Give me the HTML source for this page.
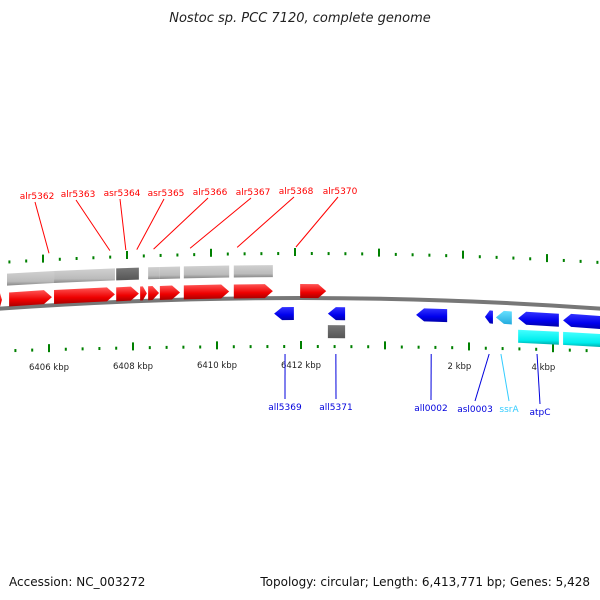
<!DOCTYPE html>
<html><head><meta charset="utf-8"><style>
body{margin:0;background:#fff}
svg{display:block;font-family:"DejaVu Sans","Liberation Sans",sans-serif}
</style></head><body>
<svg id="c" width="600" height="600" viewBox="0 0 600 600">
<defs>
<linearGradient id="gr" x1="0" y1="0" x2="0" y2="1"><stop offset="0" stop-color="#ff5555"/><stop offset="0.6" stop-color="#ee0000"/><stop offset="1" stop-color="#aa0000"/></linearGradient>
<linearGradient id="gb" x1="0" y1="0" x2="0" y2="1"><stop offset="0" stop-color="#3333ff"/><stop offset="0.6" stop-color="#0000ee"/><stop offset="1" stop-color="#0000aa"/></linearGradient>
<linearGradient id="gc" x1="0" y1="0" x2="0" y2="1"><stop offset="0" stop-color="#66e0ff"/><stop offset="1" stop-color="#22aadd"/></linearGradient>
<linearGradient id="gq" x1="0" y1="0" x2="0" y2="1"><stop offset="0" stop-color="#44ffff"/><stop offset="0.7" stop-color="#00eeee"/><stop offset="1" stop-color="#00aaaa"/></linearGradient>
<linearGradient id="gg" x1="0" y1="0" x2="0" y2="1"><stop offset="0" stop-color="#d0d0d0"/><stop offset="0.7" stop-color="#bbbbbb"/><stop offset="1" stop-color="#888888"/></linearGradient>
<linearGradient id="gd" x1="0" y1="0" x2="0" y2="1"><stop offset="0" stop-color="#777"/><stop offset="1" stop-color="#555"/></linearGradient>
</defs>
<text x="300" y="22" text-anchor="middle" font-size="13" font-style="italic" fill="#222">Nostoc sp. PCC 7120, complete genome</text>
<text x="9" y="586" font-size="12" fill="#111">Accession: NC_003272</text>
<text x="590" y="586" text-anchor="end" font-size="12" fill="#111">Topology: circular; Length: 6,413,771 bp; Genes: 5,428</text>
<path d="M-5 309 Q300 287 605 309" fill="none" stroke="#777" stroke-width="4"/>
<g id="g"></g>
</svg>
<script>
// positions in kbp along a linear axis (values beyond 6413.771 are wrapped coordinates)
const genomeLen = 6413.771;
const tickLabels = ["6406 kbp","6408 kbp","6410 kbp","6412 kbp","2 kbp","4 kbp"];
const tickPos = [6406,6408,6410,6412,6415.771,6417.771];
const fwdNames = ["alr5362","alr5363","asr5364","asr5365a","asr5365","alr5366","alr5367","alr5368","alr5370","alr5361"];
const fwdStart = [6405.05,6406.12,6407.60,6408.17,6408.36,6408.64,6409.21,6410.40,6411.98,6404.80];
const fwdEnd   = [6406.07,6407.57,6408.14,6408.33,6408.62,6409.12,6410.29,6411.33,6412.60,6404.88];
const rnaStart = [6405.00,6406.12,6407.60,6408.36,6408.64,6409.21,6410.40];
const rnaEnd   = [6406.12,6407.57,6408.14,6408.64,6409.12,6410.29,6411.33];
const rnaDark  = [0,0,1,0,0,0,0];
const revNames = ["all5369","all5371","all0002","asl0003","ssrA","atpC","atpA"];
const revStart = [6411.36,6412.64,6414.74,6416.38,6416.64,6417.17,6418.24];
const revEnd   = [6411.83,6413.05,6415.48,6416.57,6417.02,6418.14,6419.30];
const revKind  = ["b","b","b","b","c","b","b"];
const lowStart = [6412.64,6417.17,6418.24];
const lowEnd   = [6413.05,6418.14,6419.30];
const lowKind  = ["d","q","q"];
const topLabels = ["alr5362","alr5363","asr5364","asr5365","alr5366","alr5367","alr5368","alr5370"];
const topGene   = [6406.0,6407.45,6407.83,6408.09,6408.49,6409.36,6410.48,6411.88];
const botLabels = ["all5369","all5371","all0002","asl0003","ssrA","atpC"];
const botGene   = [6411.62,6412.83,6415.10,6416.48,6416.76,6417.62];

const NS="http://www.w3.org/2000/svg", G=document.getElementById('g');
const X = p => 49 + (p-6406)*42;
const dy = x => 1e-4*(x-300)*(x-300);
function el(t,a){const e=document.createElementNS(NS,t);for(const k in a)e.setAttribute(k,a[k]);G.appendChild(e);return e;}
function arrow(x1,x2,y,h,dir,fill){
  const w=x2-x1, hd=Math.min(8,w*0.6);
  const a=y+dy(x1), b=y+dy(x2);
  let d;
  if(dir>0) d=`M${x1} ${a} L${x2-hd} ${b} L${x2} ${b+h/2} L${x2-hd} ${b+h} L${x1} ${a+h} Z`;
  else d=`M${x1+hd} ${a} L${x2} ${b} L${x2} ${b+h} L${x1+hd} ${a+h} L${x1} ${a+h/2} Z`;
  return el('path',{d,fill});
}
function box(x1,x2,y,h,fill){
  const a=y+dy(x1), b=y+dy(x2);
  return el('path',{d:`M${x1} ${a} L${x2} ${b} L${x2} ${b+h} L${x1} ${a+h} Z`,fill});
}
// ticks
for(let k=0;k<50;k++){
  const p=6404+k*0.4, x=X(p)-6; if(x<0||x>600) continue;
  const major=(k%5)===0;
  const tt=el('rect',{x:x-1,y:(major?248:252)+dy(x),width:2,height:major?8:3,fill:'#008000'});
  
  
  const xb=x+6;
  const tb=el('rect',{x:xb-1,y:(major?341:345)+dy(xb)*0.5,width:2,height:major?8:3,fill:'#008000'});
  
  
}
tickLabels.forEach((t,i)=>{
  const x=X(tickPos[i]);
  const e=el('text',{x:x,y:368+dy(x)*0.3,'text-anchor':'middle','font-size':'8.5',fill:'#222'});
  e.textContent=t;
  
  
});
rnaStart.forEach((s,i)=>{
  const e=box(Math.max(-2,X(s)),X(rnaEnd[i]),265,12,rnaDark[i]?'url(#gd)':'url(#gg)');
  
  
});
fwdStart.forEach((s,i)=>{
  const e=arrow(X(s),X(fwdEnd[i]),284,14,1,'url(#gr)');
  
  
});
revStart.forEach((s,i)=>{
  const e=arrow(X(s),Math.min(605,X(revEnd[i])),307,13,-1,revKind[i]==='c'?'url(#gc)':'url(#gb)');
  
  
});
lowStart.forEach((s,i)=>{
  const e=box(X(s),Math.min(605,X(lowEnd[i])),325,13,lowKind[i]==='d'?'url(#gd)':'url(#gq)');
  
  
});
const tlx=[37,78,122,166,210,253,296,340], tly=[199,197,196,196,195,195,194,194];
topLabels.forEach((t,i)=>{
  const gx=X(topGene[i]);
  const l=el('line',{x1:tlx[i]-2,y1:tly[i]+3,x2:gx,y2:248+dy(gx)-1,stroke:'#ff0000','stroke-width':1});
  
  
  const e=el('text',{x:tlx[i],y:tly[i],'text-anchor':'middle','font-size':'9',fill:'#ff0000'});
  e.textContent=t;
  
  
});
const blx=[285,336,431,475,509,540], bly=[410,410,411,412,412,415];
botLabels.forEach((t,i)=>{
  const gx=X(botGene[i]); const col=t==='ssrA'?'#33ccff':'#0000dd';
  const l=el('line',{x1:gx,y1:354,x2:blx[i],y2:bly[i]-11,stroke:col,'stroke-width':1});
  
  
  const e=el('text',{x:blx[i],y:bly[i],'text-anchor':'middle','font-size':'9',fill:col});
  e.textContent=t;
  
  
});
</script>
</body></html>
